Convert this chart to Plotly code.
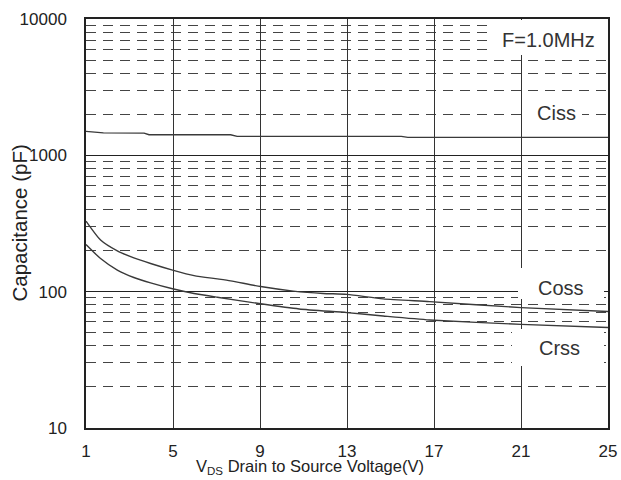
import plotly.graph_objects as go

# ---- data ----
vds_ciss = [1, 1.8, 3.67, 3.9, 7.65, 7.95, 15.5, 15.8, 25]
ciss = [1498, 1462, 1456, 1417, 1417, 1377, 1377, 1355, 1355]

vds_coss = [1, 1.67, 2.44, 3.2, 3.97, 4.98, 5.97, 7.04, 7.65, 9.03, 10.53, 11.9, 13, 14.66, 16.8, 21, 25]
coss = [329, 239, 199, 177, 161, 144, 131, 124, 120, 109, 101, 97, 95.5, 88.5, 84.5, 76.4, 71.5]

vds_crss = [1, 1.67, 2.44, 3.2, 3.97, 4.98, 5.97, 7.04, 9.03, 10.8, 13, 14.66, 16.8, 21, 25]
crss = [222, 175, 144, 127, 116, 105, 97, 91, 81.5, 74.7, 70.2, 66.3, 62, 57.6, 54.6]

x_ticks = [1, 5, 9, 13, 17, 21, 25]
y_ticks = [10, 100, 1000, 10000]
y_labels = ["10", "100", "1000", "10000"]

labels = ["Ciss", "Coss", "Crss", "F=1.0MHz"]

FONT = "Liberation Sans, Arial, sans-serif"
LINE = "#3a3a3a"

L, R, T, B = 86, 13, 19, 52
PW, PH = 621 - L - R, 480 - T - B


def px(xp):
    return (xp - L) / PW


def py(yp):
    return 1 - (yp - T) / PH


fig = go.Figure()
fig.add_trace(go.Scatter(x=vds_ciss, y=ciss, mode="lines",
                         line=dict(color=LINE, width=1.4),
                         showlegend=False, hoverinfo="skip"))
for xs, ys in [(vds_coss, coss), (vds_crss, crss)]:
    fig.add_trace(go.Scatter(x=xs, y=ys, mode="lines",
                             line=dict(color=LINE, width=1.4, shape="spline", smoothing=0.6),
                             showlegend=False, hoverinfo="skip"))

# white label boxes (pixel extents)
boxes = [
    (523, 582, 103, 123),   # Ciss
    (518, 604, 268, 299),   # Coss
    (512, 604, 329, 366),   # Crss
    (493, 606, 20, 55),     # F=1.0MHz
]
for x0, x1, y0, y1 in boxes:
    fig.add_shape(type="rect", xref="paper", yref="paper",
                  x0=px(x0), x1=px(x1), y0=py(y1), y1=py(y0),
                  fillcolor="white", line=dict(width=0), layer="above")

label_pos = [(556.5, 113), (561, 288), (559, 348), (548, 40)]
for txt, (lx, ly) in zip(labels, label_pos):
    fig.add_annotation(text=txt, xref="paper", yref="paper", x=px(lx), y=py(ly),
                       xanchor="center", yanchor="middle",
                       showarrow=False, font=dict(family=FONT, size=20, color="#333"))

# axis titles
fig.add_annotation(text="Capacitance (pF)", xref="paper", yref="paper",
                   x=px(19), y=0.5, xanchor="center", yanchor="middle",
                   textangle=-90, showarrow=False,
                   font=dict(family=FONT, size=20.5, color="#222"))
fig.add_annotation(text="V<sub>DS</sub> Drain to Source Voltage(V)", xref="paper", yref="paper",
                   x=px(310), y=py(467), xanchor="center", yanchor="middle",
                   showarrow=False, font=dict(family=FONT, size=16.5, color="#222"))

fig.update_layout(
    width=621, height=480,
    margin=dict(l=L, r=R, t=T, b=B, autoexpand=False),
    plot_bgcolor="white", paper_bgcolor="white",
    font=dict(family=FONT, color="#222"),
    xaxis=dict(
        range=[1, 25], tickvals=x_ticks, ticktext=[str(v) for v in x_ticks],
        showgrid=True, gridcolor="#333", gridwidth=1.2,
        showline=True, linecolor="#222", linewidth=1.5, mirror=True,
        zeroline=False, ticks="", ticklabelstandoff=7, automargin=False,
        tickfont=dict(size=17, color="#222"),
    ),
    yaxis=dict(
        type="log", range=[1, 4], tickvals=y_ticks, ticktext=y_labels,
        showgrid=True, gridcolor="#222", gridwidth=1.2,
        showline=True, linecolor="#222", linewidth=1.5, mirror=True,
        zeroline=False, ticks="", ticklabelstandoff=14, automargin=False,
        tickfont=dict(size=17, color="#222"),
        minor=dict(dtick="D1", showgrid=True, gridcolor="#444", gridwidth=1.2,
                   griddash="10px,7px", ticks=""),
    ),
)

fig.write_html("out.html")
